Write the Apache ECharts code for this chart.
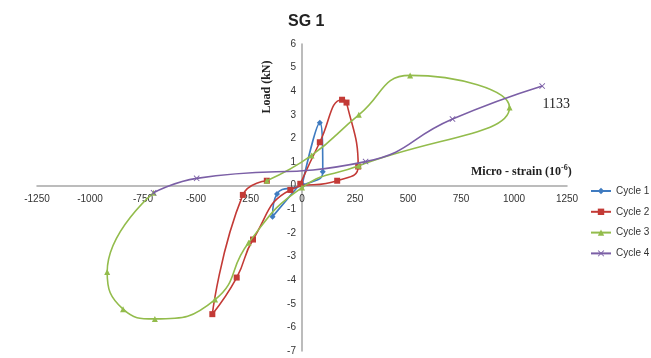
<!DOCTYPE html>
<html>
<head>
<meta charset="utf-8">
<script src="https://cdn.jsdelivr.net/npm/echarts@6/dist/echarts.min.js"></script>
<style>
  html, body { margin: 0; padding: 0; background: #fff; }
  #chart { width: 651px; height: 358px; }
</style>
</head>
<body>
<div id="chart"></div>
<script>
// Strain gauge SG 1: load vs micro-strain for four loading cycles
const seriesNames = ['Cycle 1', 'Cycle 2', 'Cycle 3', 'Cycle 4'];
// [micro-strain, load kN] in loading order
const cycle1 = [[0, 0], [84, 2.67], [98, 0.59], [5, 0.03], [-118, -0.35], [-139, -1.31], [-8, 0.08]];
const cycle2 = [[-8, 0.08], [84, 1.84], [189, 3.64], [210, 3.52], [265, 0.81], [166, 0.21], [-55, -0.18],
                [-231, -2.28], [-308, -3.89], [-423, -5.44], [-279, -0.39], [-166, 0.21]];
const cycle3 = [[-166, 0.21], [45, 1.28], [268, 3.0], [510, 4.67], [979, 3.31], [268, 0.84], [0, -0.08],
                [-252, -2.42], [-410, -4.82], [-694, -5.64], [-844, -5.23], [-919, -3.65], [-700, -0.3]];
const cycle4 = [[-700, -0.3], [-497, 0.31], [300, 1.02], [710, 2.82], [1133, 4.22]];
const xTicks = { min: -1250, max: 1250, step: 250 };
const yTicks = { min: -7, max: 6, step: 1 };

const W = 651, H = 358;
const grid = { left: 37, right: 84, top: 44, bottom: 7 };
const gridW = W - grid.left - grid.right;
const gridH = H - grid.top - grid.bottom;
// axes cross at the origin: shift each axis from the grid edge to the zero line
const xAxisShift = -gridH * (0 - yTicks.min) / (yTicks.max - yTicks.min);
const yAxisShift = -gridW * (0 - xTicks.min) / (xTicks.max - xTicks.min);

const colors = ['#3f7bc0', '#c33a36', '#93bc4c', '#7b5fa6'];
const crossSymbol = 'path://M0,1L1,0L5,4L9,0L10,1L6,5L10,9L9,10L5,6L1,10L0,9L4,5Z';
const symbols = ['diamond', 'rect', 'triangle', crossSymbol];
const symbolSizes = [6, 6, 6, 6];
const allData = [cycle1, cycle2, cycle3, cycle4];

const chart = echarts.init(document.getElementById('chart'), null, { renderer: 'canvas' });

const series = allData.map((d, i) => ({
  name: seriesNames[i],
  type: 'line',
  smooth: 0.5,
  data: d.map((p, j) => {
    if (i === 3 && j === d.length - 1) {
      return {
        value: p,
        label: {
          show: true,
          position: 'bottom',
          offset: [14, 3],
          formatter: (prm) => String(prm.value[0]),
          fontFamily: '"Liberation Serif", serif',
          fontSize: 14,
          color: '#222'
        }
      };
    }
    return p;
  }),
  symbol: symbols[i],
  symbolSize: symbolSizes[i],
  showSymbol: true,
  lineStyle: { width: 1.6, color: colors[i] },
  itemStyle: { color: colors[i] },
  z: 2 + i
}));

const labelFont = { fontSize: 10, color: '#333', fontFamily: '"Liberation Sans", sans-serif' };

chart.setOption({
  animation: false,
  backgroundColor: '#ffffff',
  title: {
    text: 'SG 1',
    left: 283,
    top: 9,
    textStyle: { fontFamily: '"Liberation Sans", sans-serif', fontWeight: 'bold', fontSize: 16, color: '#222' }
  },
  grid: Object.assign({ containLabel: false }, grid),
  xAxis: {
    type: 'value',
    min: xTicks.min, max: xTicks.max, interval: xTicks.step,
    offset: xAxisShift,
    axisLine: { onZero: false, lineStyle: { color: '#a6a6a6', width: 1.5 } },
    axisTick: { show: false },
    splitLine: { show: false },
    axisLabel: Object.assign({ margin: 9, formatter: (v) => String(v) }, labelFont)
  },
  yAxis: {
    type: 'value',
    min: yTicks.min, max: yTicks.max, interval: yTicks.step,
    offset: yAxisShift,
    axisLine: { show: true, onZero: false, lineStyle: { color: '#a6a6a6', width: 1.5 } },
    axisTick: { show: false },
    splitLine: { show: false },
    axisLabel: Object.assign({ margin: 6, formatter: (v) => String(v) }, labelFont)
  },
  legend: {
    orient: 'vertical',
    left: 590,
    top: 186,
    padding: 0,
    itemWidth: 20,
    itemHeight: 8,
    itemGap: 10.8,
    data: seriesNames,
    textStyle: { fontSize: 10, color: '#333', fontFamily: '"Liberation Sans", sans-serif' }
  },
  graphic: [
    {
      type: 'text',
      x: 267, y: 87,
      rotation: Math.PI / 2,
      style: {
        text: 'Load (kN)',
        font: 'bold 12px "Liberation Serif", serif',
        fill: '#222',
        textAlign: 'center',
        textVerticalAlign: 'middle'
      }
    },
    {
      type: 'text',
      x: 471, y: 164,
      style: {
        text: '{a|Micro - strain (10}{s|-6}{a|)}',
        fill: '#222',
        rich: {
          a: { fontFamily: '"Liberation Serif", serif', fontWeight: 'bold', fontSize: 12, lineHeight: 14, verticalAlign: 'bottom' },
          s: { fontFamily: '"Liberation Serif", serif', fontWeight: 'bold', fontSize: 8, lineHeight: 14, verticalAlign: 'top' }
        }
      }
    }
  ],
  series: series
});
</script>
</body>
</html>
